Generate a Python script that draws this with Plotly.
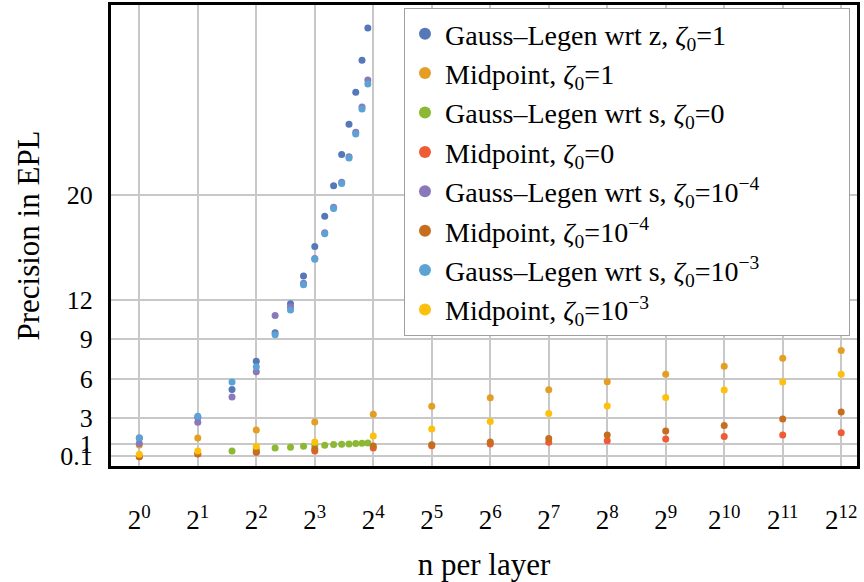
import plotly.graph_objects as go
import math

# ---- data ----
n_gl = list(range(1, 16))
n_gl_s0 = list(range(3, 16))
n_mid = [2 ** k for k in range(13)]

gl_z_1 = [1.45, 3.05, 5.16, 7.32, 9.48, 11.69, 13.82, 16.06, 18.37, 20.68, 23.07, 25.36, 27.80, 30.24, 32.70]
mid_1 = [0.94, 1.48, 2.09, 2.70, 3.28, 3.89, 4.53, 5.14, 5.75, 6.33, 6.94, 7.55, 8.14]
gl_s_0 = [0.49, 0.62, 0.71, 0.77, 0.84, 0.89, 0.92, 0.97, 0.99, 1.02, 1.05, 1.07, 1.09]
mid_0 = [0.05, 0.25, 0.38, 0.48, 0.72, 0.88, 1.02, 1.15, 1.27, 1.40, 1.58, 1.70, 1.88]
gl_s_1e4 = [1.05, 2.67, 4.60, 6.51, 10.80, 11.45, 13.25, 15.15, 17.10, 19.05, 20.95, 22.90, 24.75, 26.68, 28.74]
mid_1e4 = [0.06, 0.28, 0.41, 0.61, 0.86, 0.95, 1.17, 1.43, 1.70, 2.01, 2.42, 2.92, 3.46]
gl_s_1e3 = [1.50, 3.13, 5.74, 6.89, 9.33, 11.23, 13.14, 15.09, 17.03, 18.96, 20.86, 22.80, 24.62, 26.53, 28.43]
mid_1e3 = [0.23, 0.49, 0.84, 1.17, 1.63, 2.16, 2.72, 3.33, 3.91, 4.55, 5.13, 5.74, 6.33]

x_tickvals = [2 ** k for k in range(13)]
x_ticktext = [f"2<sup>{k}</sup>" for k in range(13)]
y_tickvals = [0.1, 1, 3, 6, 9, 12, 20]
y_ticktext = ["0.1", "1", "3", "6", "9", "12", "20"]

Z = "<i>ζ</i><sub>0</sub>"
PAD = "\u00a0" * 12  # widens the legend box to match the reference
series = [
    (n_gl, gl_z_1, f"Gauss–Legen wrt z, {Z}=1", "#5677b8"),
    (n_mid, mid_1, f"Midpoint, {Z}=1", "#e59e24"),
    (n_gl_s0, gl_s_0, f"Gauss–Legen wrt s, {Z}=0", "#8cb833"),
    (n_mid, mid_0, f"Midpoint, {Z}=0", "#ee5b34"),
    (n_gl, gl_s_1e4, f"Gauss–Legen wrt s, {Z}=10<sup>−4</sup>{PAD}", "#8a78bb"),
    (n_mid, mid_1e4, f"Midpoint, {Z}=10<sup>−4</sup>", "#c76d1e"),
    (n_gl, gl_s_1e3, f"Gauss–Legen wrt s, {Z}=10<sup>−3</sup>", "#5ba2d5"),
    (n_mid, mid_1e3, f"Midpoint, {Z}=10<sup>−3</sup>", "#fdc00c"),
]

FONT = "Liberation Serif"

fig = go.Figure()
for xs, ys, name, col in series:
    fig.add_trace(go.Scatter(
        x=xs, y=ys, mode="markers", name=name,
        marker=dict(color=col, size=7, line=dict(width=0)),
    ))

fig.update_layout(
    width=864, height=582,
    margin=dict(l=111, r=7, t=5, b=116, autoexpand=False),
    paper_bgcolor="white", plot_bgcolor="white",
    font=dict(family=FONT, size=27, color="black"),
    legend=dict(
        x=0.9906, y=0.9935, xanchor="right", yanchor="top",
        bgcolor="white", bordercolor="#a0a0a0", borderwidth=1,
        font=dict(family=FONT, size=28, color="black"),
        itemsizing="constant",
    ),
    showlegend=True,
)

fig.update_xaxes(
    type="log",
    range=[math.log10(2 ** -0.484), math.log10(2 ** 12.27)],
    tickvals=x_tickvals, ticktext=x_ticktext,
    showgrid=True, gridcolor="#c8c8c8", gridwidth=2,
    showline=True, linecolor="black", linewidth=3, mirror=True,
    ticks="", ticklabelstandoff=28,
    tickfont=dict(family=FONT, size=27),
    title=dict(text="n per layer", font=dict(family=FONT, size=31), standoff=30),
    zeroline=False, automargin=False,
)
fig.update_yaxes(
    range=[-0.66, 34.45],
    tickvals=y_tickvals, ticktext=y_ticktext,
    showgrid=True, gridcolor="#c8c8c8", gridwidth=2,
    showline=True, linecolor="black", linewidth=3, mirror=True,
    ticks="", ticklabelstandoff=10,
    tickfont=dict(family=FONT, size=26),
    title=dict(text="Precision in EPL", font=dict(family=FONT, size=31), standoff=12),
    zeroline=False, automargin=False,
)

fig.write_html(
    "out.html",
    config={"displayModeBar": False},
    post_script="document.body.style.margin='0';document.body.style.padding='0';",
)
